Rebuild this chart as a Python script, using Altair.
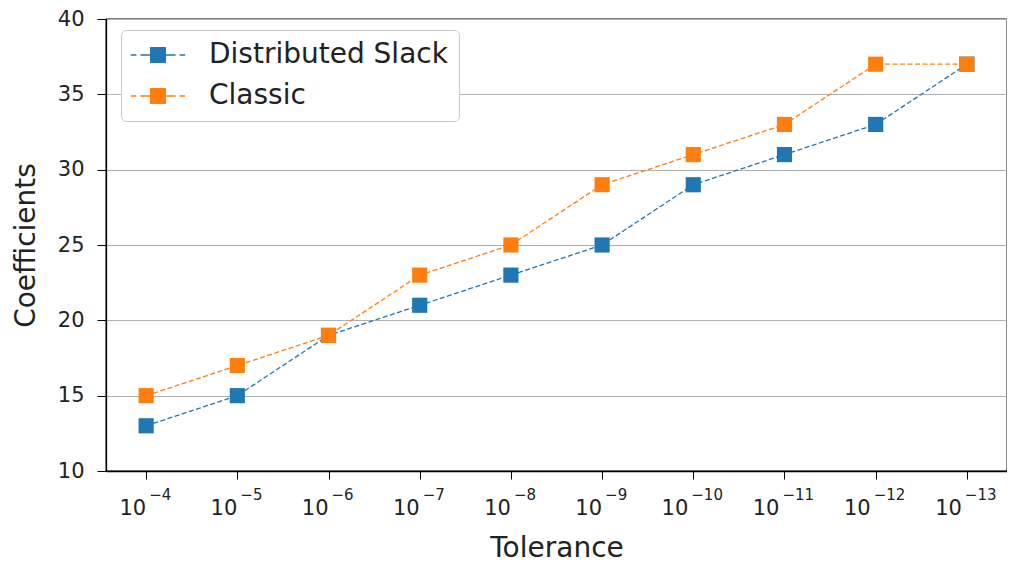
import altair as alt
import pandas as pd

tolerance = ["10^-4", "10^-5", "10^-6", "10^-7", "10^-8", "10^-9",
             "10^-10", "10^-11", "10^-12", "10^-13"]
exponents = ["−4", "−5", "−6", "−7", "−8", "−9", "−10", "−11", "−12", "−13"]
distributed_slack = [13, 15, 19, 21, 23, 25, 29, 31, 33, 37]
classic = [15, 17, 19, 23, 25, 29, 31, 33, 37, 37]
series_names = ["Distributed Slack", "Classic"]
series_colors = ["#1f77b4", "#ff7f0e"]
y_ticks = [10, 15, 20, 25, 30, 35, 40]

PLOT_W, PLOT_H = 901, 452
TXT = "#222222"

rows = []
for name, vals in zip(series_names, [distributed_slack, classic]):
    for t, v in zip(tolerance, vals):
        rows.append({"Tolerance": t, "Coefficients": v, "Series": name})
df = pd.DataFrame(rows)

labels_df = pd.DataFrame({"Tolerance": tolerance, "base": ["10"] * len(tolerance),
                          "exp": exponents,
                          "long": [len(e) > 2 for e in exponents]})

legend_path = ("M-3.4,-0.09H-2.7V0.09H-3.4Z "
               "M-2.2,-0.09H-1V0.09H-2.2Z "
               "M-1,-1H1V1H-1Z "
               "M1,-0.09H2.2V0.09H1Z "
               "M2.7,-0.09H3.4V0.09H2.7Z")

xscale = alt.Scale(type="point", padding=0.44)
x = alt.X("Tolerance:N", sort=tolerance, scale=xscale,
          axis=alt.Axis(title="Tolerance", labels=False, grid=False,
                        titleFontSize=28, titlePadding=55, tickSize=8))
y = alt.Y("Coefficients:Q",
          scale=alt.Scale(domain=[10, 40], nice=False, zero=False),
          axis=alt.Axis(title="Coefficients", values=y_ticks, grid=True,
                        gridColor="#b0b0b0", gridWidth=1,
                        labelFontSize=21, titleFontSize=28, titlePadding=17,
                        tickSize=9, labelPadding=13))
color_scale = alt.Scale(domain=series_names, range=series_colors)
legend = alt.Legend(title=None, orient="none", legendX=15, legendY=11,
                    symbolType=legend_path, symbolSize=256,
                    symbolStrokeWidth=0, symbolOpacity=1,
                    labelFontSize=28, labelColor=TXT, labelLimit=500,
                    fillColor="white", strokeColor="#cccccc",
                    cornerRadius=5, padding=11, rowPadding=13,
                    symbolOffset=12, labelOffset=37)
color = alt.Color("Series:N", scale=color_scale, sort=series_names, legend=legend)

lines = alt.Chart(df).mark_line(strokeDash=[5, 2.5], strokeWidth=1.3).encode(
    x=x, y=y, color=color, detail="Series:N")
points = alt.Chart(df).mark_point(shape="square", filled=True, size=230, opacity=1).encode(
    x=x, y=y, color=color)

xl = alt.X("Tolerance:N", sort=tolerance, scale=xscale)
base_short = alt.Chart(labels_df).transform_filter("!datum.long").mark_text(
    align="right", baseline="alphabetic", fontSize=21, color=TXT, dx=0).encode(
    x=xl, y=alt.value(PLOT_H + 44), text="base:N")
base_long = alt.Chart(labels_df).transform_filter("datum.long").mark_text(
    align="right", baseline="alphabetic", fontSize=21, color=TXT, dx=-5).encode(
    x=xl, y=alt.value(PLOT_H + 44), text="base:N")
exp_short = alt.Chart(labels_df).transform_filter("!datum.long").mark_text(
    align="left", baseline="alphabetic", fontSize=15, color=TXT, dx=3).encode(
    x=xl, y=alt.value(PLOT_H + 29), text="exp:N")
exp_long = alt.Chart(labels_df).transform_filter("datum.long").mark_text(
    align="left", baseline="alphabetic", fontSize=15, color=TXT, dx=-2).encode(
    x=xl, y=alt.value(PLOT_H + 29), text="exp:N")

chart = (lines + points + base_short + base_long + exp_short + exp_long).properties(
    width=PLOT_W, height=PLOT_H,
    autosize=alt.AutoSizeParams(type="none"),
    padding={"left": 98, "top": 11, "right": 0, "bottom": 92},
).configure(font="DejaVu Sans").configure_view(
    stroke="black", strokeWidth=1.3
).configure_axis(
    domainColor="black", tickColor="black", labelColor=TXT,
    titleColor=TXT, titleFontWeight="normal", domainWidth=1.3
)

chart.save("out.html", embed_options={"renderer": "svg", "actions": False})
